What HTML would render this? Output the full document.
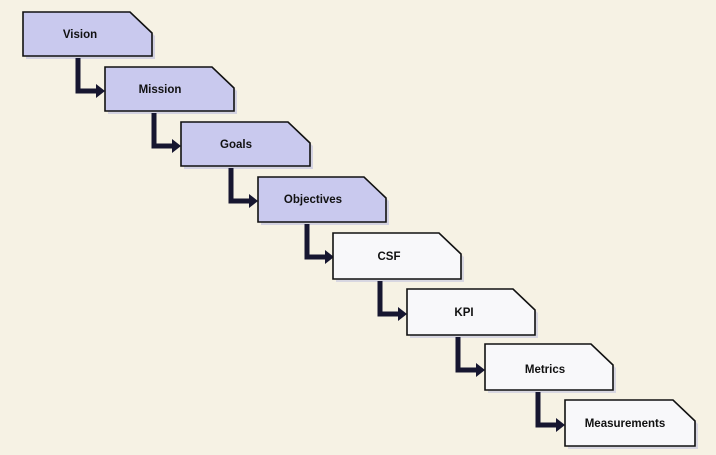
<!DOCTYPE html>
<html><head><style>
html,body{margin:0;padding:0;background:#f6f2e4;}
svg{display:block}
text{font-family:"Liberation Sans",sans-serif;font-size:11.5px;font-weight:bold;fill:#111;text-anchor:middle}
</style></head><body>
<svg width="716" height="455" viewBox="0 0 716 455">
<defs>
<g id="c">
<path d="M0,0 V33 H20" fill="none" stroke="#161630" stroke-width="5"/>
<path d="M18,26 L27,33 L18,40 Z" fill="#161630"/>
</g>
</defs>
<g>
<path d="M26,15 H133 L155,36 V59 H26 Z" fill="#bdbde0" opacity="0.6"/>
<path d="M23,12 H130 L152,33 V56 H23 Z" fill="#c9c9ee" stroke="#111" stroke-width="1.6"/>
<text x="80" y="38">Vision</text>
<use href="#c" x="78" y="58"/>

<path d="M108,70 H215 L237,91 V114 H108 Z" fill="#bdbde0" opacity="0.6"/>
<path d="M105,67 H212 L234,88 V111 H105 Z" fill="#c9c9ee" stroke="#111" stroke-width="1.6"/>
<text x="160" y="93">Mission</text>
<use href="#c" x="154" y="113"/>

<path d="M184,125 H291 L313,146 V169 H184 Z" fill="#bdbde0" opacity="0.6"/>
<path d="M181,122 H288 L310,143 V166 H181 Z" fill="#c9c9ee" stroke="#111" stroke-width="1.6"/>
<text x="236" y="148">Goals</text>
<use href="#c" x="231" y="168"/>

<path d="M261,180 H367 L389,201 V225 H261 Z" fill="#bdbde0" opacity="0.6"/>
<path d="M258,177 H364 L386,198 V222 H258 Z" fill="#c9c9ee" stroke="#111" stroke-width="1.6"/>
<text x="313" y="203">Objectives</text>
<use href="#c" x="307" y="224"/>

<path d="M336,236 H442 L464,257 V282 H336 Z" fill="#c4c4e0" opacity="0.6"/>
<path d="M333,233 H439 L461,254 V279 H333 Z" fill="#f8f8fa" stroke="#111" stroke-width="1.6"/>
<text x="389" y="260">CSF</text>
<use href="#c" x="380" y="281"/>

<path d="M410,292 H516 L538,313 V338 H410 Z" fill="#c4c4e0" opacity="0.6"/>
<path d="M407,289 H513 L535,310 V335 H407 Z" fill="#f8f8fa" stroke="#111" stroke-width="1.6"/>
<text x="464" y="316">KPI</text>
<use href="#c" x="458" y="337"/>

<path d="M488,347 H594 L616,368 V393 H488 Z" fill="#c4c4e0" opacity="0.6"/>
<path d="M485,344 H591 L613,365 V390 H485 Z" fill="#f8f8fa" stroke="#111" stroke-width="1.6"/>
<text x="545" y="373">Metrics</text>
<use href="#c" x="538" y="392"/>

<path d="M568,403 H676 L698,424 V449 H568 Z" fill="#c4c4e0" opacity="0.6"/>
<path d="M565,400 H673 L695,421 V446 H565 Z" fill="#f8f8fa" stroke="#111" stroke-width="1.6"/>
<text x="625" y="427">Measurements</text>
</g>
</svg>
</body></html>
